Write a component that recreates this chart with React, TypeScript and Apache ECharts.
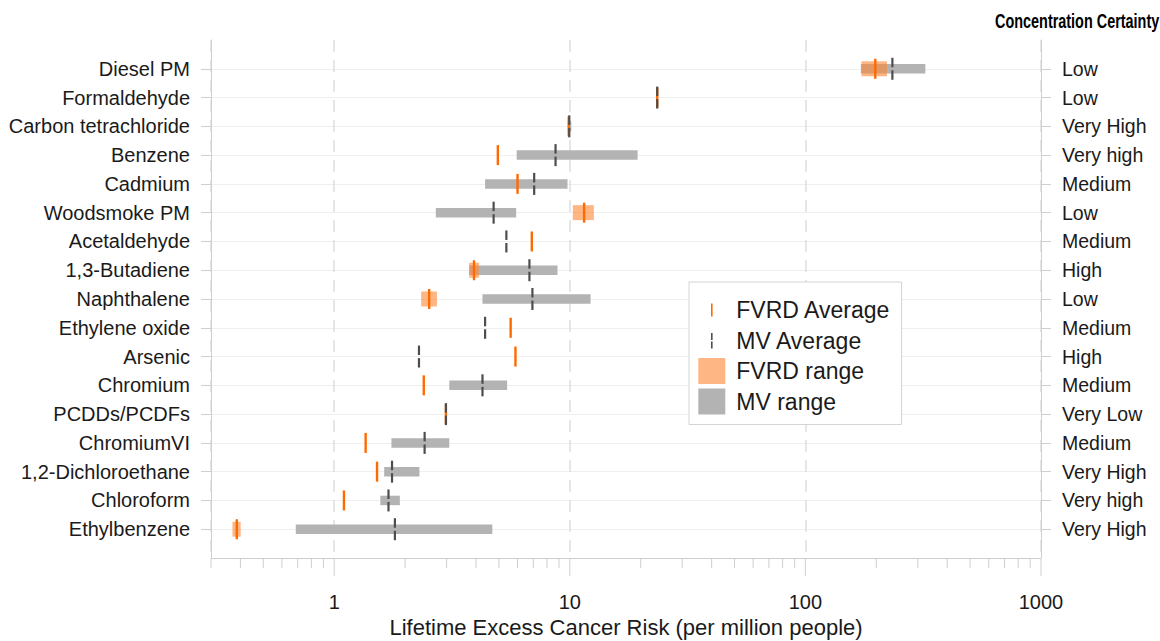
import React, { useEffect, useRef } from 'react';
import * as echarts from 'echarts';

const categories = ['Diesel PM', 'Formaldehyde', 'Carbon tetrachloride', 'Benzene', 'Cadmium', 'Woodsmoke PM', 'Acetaldehyde', '1,3-Butadiene', 'Naphthalene', 'Ethylene oxide', 'Arsenic', 'Chromium', 'PCDDs/PCDFs', 'ChromiumVI', '1,2-Dichloroethane', 'Chloroform', 'Ethylbenzene'];
const certainty = ['Low', 'Low', 'Very High', 'Very high', 'Medium', 'Low', 'Medium', 'High', 'Low', 'Medium', 'High', 'Medium', 'Very Low', 'Medium', 'Very High', 'Very high', 'Very High'];

const fvrdAvg = [198, 23.5, 9.9, 4.95, 6.0, 11.5, 6.9, 3.92, 2.53, 5.61, 5.88, 2.4, 2.98, 1.36, 1.52, 1.1, 0.386];
const fvrdLow = [173, null, null, null, null, 10.3, null, 3.74, 2.34, null, null, null, null, null, null, null, 0.37];
const fvrdHigh = [222, null, null, null, null, 12.65, null, 4.12, 2.73, null, null, null, null, null, null, null, 0.401];
const mvAvg = [234, 23.5, 9.95, 8.7, 7.06, 4.75, 5.38, 6.74, 6.94, 4.37, 2.29, 4.26, 2.98, 2.42, 1.76, 1.7, 1.81];
const mvLow = [172, null, 9.8, 5.95, 4.37, 2.7, null, 3.74, 4.26, null, null, 3.08, null, 1.75, 1.63, 1.57, 0.687];
const mvHigh = [323, null, 10.15, 19.4, 9.78, 5.92, null, 8.87, 12.25, null, null, 5.42, null, 3.08, 2.3, 1.9, 4.69];

const xTickLabels = ['1', '10', '100', '1000'];
const majorTicks = [1, 10, 100, 1000];
const minorTicks = [0.3, 0.4, 0.5, 0.6, 0.7, 0.8, 0.9, 2, 3, 4, 5, 6, 7, 8, 9, 20, 30, 40, 50, 60, 70, 80, 90, 200, 300, 400, 500, 600, 700, 800, 900];

const FONT = '"Liberation Sans", Arial, Helvetica, sans-serif';
const TEXT = '#1a1a1a';
const AXIS = '#cfcfcf';
const ORANGE = '#ff6a00';
const ORANGE_FILL = 'rgba(255,133,51,0.6)';
const GRAY_FILL = '#b3b3b3';
const MV_TICK = '#4d4d4d';

const yCats = ['_top', ...categories, '_bottom'];
const LAST = yCats.length - 1;

export default function App() {
  const ref = useRef<HTMLDivElement>(null);

  useEffect(() => {
    document.body.style.margin = '0';
    if (!ref.current) return;
    const chart = echarts.init(ref.current, null, { renderer: 'svg' });

    const rangeData = (lo: (number | null)[], hi: (number | null)[]) =>
      lo.map((l, i) => (l == null || hi[i] == null ? null : [l, hi[i], i + 1])).filter((d) => d !== null);

    const rangeRender = (h: number, fill: string) => (params: any, api: any) => {
      const a = api.coord([api.value(0), api.value(2)]);
      const b = api.coord([api.value(1), api.value(2)]);
      return {
        type: 'rect',
        shape: { x: a[0], y: a[1] - h / 2, width: Math.max(b[0] - a[0], 1), height: h },
        style: { fill },
      };
    };

    const tickRender = (params: any, api: any) => {
      const p = api.coord([api.value(0), api.value(1)]);
      return {
        type: 'rect',
        shape: { x: p[0] - 1.2, y: p[1] - 10, width: 2.4, height: 20 },
        style: { fill: ORANGE },
      };
    };

    const mvTickRender = (params: any, api: any) => {
      const p = api.coord([api.value(0), api.value(1)]);
      return {
        type: 'group',
        children: [
          { type: 'rect', shape: { x: p[0] - 1.1, y: p[1] - 11, width: 2.2, height: 9.5 }, style: { fill: MV_TICK } },
          { type: 'rect', shape: { x: p[0] - 1.1, y: p[1] + 1.5, width: 2.2, height: 9.5 }, style: { fill: MV_TICK } },
        ],
      };
    };

    const axisTickRender = (len: number) => (params: any, api: any) => {
      const p = api.coord([api.value(0), api.value(1)]);
      return {
        type: 'line',
        shape: { x1: p[0], y1: p[1] + 1, x2: p[0], y2: p[1] + len },
        style: { stroke: AXIS, lineWidth: 1 },
      };
    };

    const isPow10 = (v: number) => {
      const l = Math.log10(v);
      return Math.abs(l - Math.round(l)) < 1e-6;
    };

    const cornerPad = 'M0,0h0.01v0.01z M27,26h-0.01v-0.01z ';

    chart.setOption({
      animation: false,
      graphic: [
        {
          type: 'text',
          x: 995,
          y: 21,
          scaleX: 0.74,
          style: {
            text: 'Concentration Certainty',
            fontFamily: FONT,
            fontWeight: 'bold',
            fontSize: 19.5,
            fill: '#000',
            verticalAlign: 'middle',
            align: 'left',
          },
        },
      ],
      grid: { left: 211, right: 119, top: 40, bottom: 83, containLabel: false, outerBoundsMode: 'none' },
      legend: {
        orient: 'vertical',
        left: 689,
        top: 282,
        padding: [15, 11, 10, 9.3],
        itemGap: 4.5,
        itemWidth: 27,
        itemHeight: 26,
        backgroundColor: '#fff',
        borderColor: '#d4d4d4',
        borderWidth: 1,
        selectedMode: false,
        textStyle: { fontFamily: FONT, fontSize: 23, color: TEXT, padding: [0, 0, 0, 6] },
        data: [
          { name: 'FVRD Average', icon: 'path://' + cornerPad + 'M12.7,6.5h1.6v13h-1.6z', itemStyle: { color: ORANGE } },
          { name: 'MV Average', icon: 'path://' + cornerPad + 'M12.7,5.5h1.6v7h-1.6z M12.7,14h1.6v7h-1.6z', itemStyle: { color: MV_TICK } },
          { name: 'FVRD range', icon: 'path://M0,0h27v26h-27z', itemStyle: { color: '#ffb685' } },
          { name: 'MV range', icon: 'path://M0,0h27v26h-27z', itemStyle: { color: GRAY_FILL } },
        ],
      },
      xAxis: {
        type: 'log',
        logBase: 10,
        min: 0.3,
        max: 1000,
        name: 'Lifetime Excess Cancer Risk (per million people)',
        nameLocation: 'middle',
        nameGap: 58,
        nameMoveOverlap: false,
        nameTextStyle: { fontFamily: FONT, fontSize: 22, color: TEXT },
        axisLine: { show: true, lineStyle: { color: AXIS, width: 1 } },
        axisTick: { show: false },
        axisLabel: {
          fontFamily: FONT,
          fontSize: 20,
          color: TEXT,
          margin: 34,
          formatter: (v: number) => {
            if (!isPow10(v)) return '';
            const s = String(Math.round(v));
            return xTickLabels.includes(s) ? s : '';
          },
        },
        splitLine: { show: true, lineStyle: { color: '#dedede', width: 1.5, type: [12, 8] } },
      },
      yAxis: [
        {
          type: 'category',
          data: yCats,
          inverse: true,
          boundaryGap: false,
          position: 'left',
          axisLine: { show: true, lineStyle: { color: AXIS, width: 1 } },
          axisTick: { show: true, length: 10, lineStyle: { color: AXIS }, interval: (i: number) => i > 0 && i < LAST },
          axisLabel: {
            interval: 0,
            margin: 21,
            fontFamily: FONT,
            fontSize: 20,
            color: TEXT,
            formatter: (v: string, i: number) => (i > 0 && i < LAST ? v : ''),
          },
          splitLine: { show: true, lineStyle: { color: '#efefef', width: 1 }, interval: (i: number) => i > 0 && i < LAST },
        },
        {
          type: 'category',
          data: yCats,
          inverse: true,
          boundaryGap: false,
          position: 'right',
          axisLine: { show: true, lineStyle: { color: AXIS, width: 1 } },
          axisTick: { show: true, length: 10, lineStyle: { color: AXIS }, interval: (i: number) => i > 0 && i < LAST },
          axisLabel: {
            interval: 0,
            margin: 21,
            fontFamily: FONT,
            fontSize: 19.5,
            color: TEXT,
            formatter: (v: string, i: number) => (i > 0 && i < LAST ? certainty[i - 1] : ''),
          },
          splitLine: { show: false },
        },
      ],
      series: [
        {
          name: 'MV range',
          type: 'custom',
          renderItem: rangeRender(9.5, GRAY_FILL),
          itemStyle: { color: GRAY_FILL },
          encode: { x: [0, 1], y: 2 },
          data: rangeData(mvLow, mvHigh),
          silent: true,
          z: 2,
        },
        {
          name: 'FVRD range',
          type: 'custom',
          renderItem: rangeRender(15, ORANGE_FILL),
          itemStyle: { color: '#ffb685' },
          encode: { x: [0, 1], y: 2 },
          data: rangeData(fvrdLow, fvrdHigh),
          silent: true,
          z: 3,
        },
        {
          name: 'FVRD Average',
          type: 'custom',
          renderItem: tickRender,
          itemStyle: { color: ORANGE },
          encode: { x: 0, y: 1 },
          data: fvrdAvg.map((v, i) => [v, i + 1]),
          silent: true,
          z: 4,
        },
        {
          name: 'MV Average',
          type: 'custom',
          renderItem: mvTickRender,
          itemStyle: { color: MV_TICK },
          encode: { x: 0, y: 1 },
          data: mvAvg.map((v, i) => [v, i + 1]),
          silent: true,
          z: 5,
        },
        {
          name: 'majorTicks',
          type: 'custom',
          renderItem: axisTickRender(18),
          encode: { x: 0, y: 1 },
          data: majorTicks.map((v) => [v, LAST]),
          clip: false,
          silent: true,
        },
        {
          name: 'minorTicks',
          type: 'custom',
          renderItem: axisTickRender(10),
          encode: { x: 0, y: 1 },
          data: minorTicks.map((v) => [v, LAST]),
          clip: false,
          silent: true,
        },
      ],
    });

    return () => chart.dispose();
  }, []);

  return <div ref={ref} style={{ width: 1160, height: 641 }} />;
}
